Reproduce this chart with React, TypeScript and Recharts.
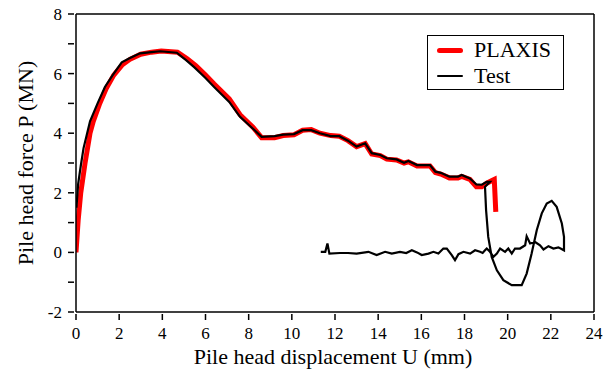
import { LineChart, Line, XAxis, YAxis, ReferenceLine } from 'recharts';

// Pile head displacement U (mm) / force P (MN), PLAXIS model
const plaxisU = [0, 0.1, 0.22, 0.42, 0.65, 0.8, 1.1, 1.4, 1.75, 2.15, 2.5, 3.0, 3.5, 3.95, 4.7, 5.15, 5.55, 6.0, 6.4, 7.1, 7.6, 8.2, 8.6, 9.2, 9.6, 10.1, 10.5, 10.9, 11.3, 11.8, 12.2, 12.6, 13.0, 13.4, 13.7, 14.1, 14.4, 14.85, 15.2, 15.4, 15.8, 16.4, 16.65, 16.9, 17.3, 17.7, 17.87, 18.25, 18.55, 18.8, 19.03, 19.3, 19.38, 19.45];
const plaxisP = [0, 1.08, 2.0, 3.0, 4.0, 4.4, 5.0, 5.5, 5.95, 6.3, 6.48, 6.65, 6.72, 6.76, 6.72, 6.5, 6.27, 5.95, 5.65, 5.15, 4.62, 4.2, 3.85, 3.85, 3.92, 3.95, 4.1, 4.12, 4.0, 3.92, 3.9, 3.75, 3.55, 3.65, 3.3, 3.25, 3.13, 3.1, 3.0, 3.04, 2.9, 2.9, 2.68, 2.63, 2.5, 2.5, 2.55, 2.45, 2.2, 2.2, 2.32, 2.42, 2.45, 1.36];

// Measured load test: loading branch, unloading loop, then the noisy tail back near zero
const testU = [
  0.02, 0.1, 0.22, 0.35, 0.5, 0.65, 1.0, 1.34, 1.7, 2.12, 2.5, 2.97, 3.5, 3.9, 4.67, 5.1, 5.5, 6.0, 6.4, 7.1, 7.6, 8.2, 8.6, 9.2, 9.6, 10.1, 10.5, 10.9, 11.3, 11.8, 12.2, 12.6, 13.0, 13.4, 13.7, 14.1, 14.4, 14.85, 15.2, 15.4, 15.8, 16.4, 16.65, 16.9, 17.3, 17.7, 17.87, 18.25, 18.55, 18.8, 19.03, 19.18,
  18.95, 19.0, 19.1, 19.26, 19.5, 19.8, 20.19, 20.65, 20.88, 21.11, 21.35, 21.58, 21.81, 22.04, 22.27, 22.51, 22.61, 22.61,
  22.35, 22.12, 21.89, 21.66, 21.5, 21.27, 21.04, 20.88, 20.81, 20.57, 20.34, 20.19, 20.03, 19.88, 19.65, 19.5, 19.34, 19.18, 19.03, 18.95, 18.84, 18.72, 18.49, 18.26, 17.95, 17.72, 17.56, 17.41, 17.18, 17.02, 16.79, 16.56, 16.33, 16.02, 15.8, 15.56, 15.3, 15.01, 14.63, 14.32, 13.93, 13.55, 13.0, 12.6, 12.23, 11.74, 11.65, 11.55, 11.34,
];
const testP = [
  1.5, 2.3, 2.9, 3.5, 3.95, 4.4, 5.0, 5.55, 5.95, 6.38, 6.52, 6.68, 6.72, 6.75, 6.7, 6.45, 6.2, 5.85, 5.55, 5.05, 4.55, 4.15, 3.88, 3.9, 3.95, 3.97, 4.1, 4.1, 4.0, 3.9, 3.9, 3.75, 3.55, 3.66, 3.33, 3.27, 3.16, 3.12, 3.01, 3.07, 2.93, 2.93, 2.71, 2.67, 2.54, 2.54, 2.6, 2.48, 2.28, 2.27, 2.37, 2.37,
  2.2, 1.42, 0.52, -0.15, -0.6, -0.93, -1.1, -1.1, -0.71, -0.04, 0.75, 1.31, 1.64, 1.73, 1.53, 0.97, 0.52, 0.07,
  0.17, 0.13, 0.21, 0.1, 0.24, 0.35, 0.3, 0.54, 0.24, 0.13, 0.13, -0.04, 0.13, 0.02, 0.13, -0.04, -0.15, 0.02, 0.13, 0.07, -0.02, 0.02, 0.07, -0.04, 0.02, -0.06, -0.26, -0.09, 0.13, 0.13, -0.04, 0.02, -0.04, -0.09, 0.0, 0.07, -0.02, 0.02, -0.04, 0.02, -0.09, 0.02, -0.04, -0.02, -0.02, -0.04, 0.3, 0.02, 0.02,
];

const xTicks = [0, 2, 4, 6, 8, 10, 12, 14, 16, 18, 20, 22, 24];
const yTicks = [-2, -1, 0, 1, 2, 3, 4, 5, 6, 7, 8];

const plaxisData = plaxisU.map((u, i) => ({ u, p: plaxisP[i] }));
const testData = testU.map((u, i) => ({ u, p: testP[i] }));

const FONT = 'Liberation Serif';

const legendItems = [
  { name: 'PLAXIS', color: '#ff0000', width: 5 },
  { name: 'Test', color: '#000000', width: 2.5 },
];

function LegendBox() {
  return (
    <div style={{ position: 'absolute', left: 427, top: 35, border: '1px solid #000', background: '#fff', width: 137, height: 55, boxSizing: 'border-box', fontFamily: FONT, fontSize: 22, color: '#000', paddingTop: 1 }}>
      {legendItems.map((it) => (
        <div key={it.name} style={{ display: 'flex', alignItems: 'center', height: 26 }}>
          <span style={{ display: 'inline-block', marginLeft: 9, width: 26, height: it.width, background: it.color, borderRadius: it.width / 2 }} />
          <span style={{ marginLeft: 11, lineHeight: '26px' }}>{it.name}</span>
        </div>
      ))}
    </div>
  );
}

// tick labels drawn by hand so the serif face is applied directly
function XTick({ x, y, payload }: any) {
  return (
    <g>
      <line x1={x} y1={y - 6} x2={x} y2={y} stroke="#000" strokeWidth={1.5} />
      <text x={x} y={y + 19} textAnchor="middle" fontFamily={FONT} fontSize={17} fill="#000">
        {payload.value}
      </text>
    </g>
  );
}

function YTick({ x, y, payload }: any) {
  const v = payload.value;
  return (
    <g>
      <line x1={x} y1={y} x2={x + 6} y2={y} stroke="#000" strokeWidth={1.5} />
      {v % 2 === 0 && (
        <text x={x - 6} y={y + 6} textAnchor="end" fontFamily={FONT} fontSize={17} fill="#000">
          {v}
        </text>
      )}
    </g>
  );
}

function XTitle({ viewBox }: any) {
  const cx = viewBox.x + viewBox.width / 2;
  return (
    <text x={cx - 2} y={364} textAnchor="middle" fontFamily={FONT} fontSize={22} fill="#000">
      Pile head displacement U (mm)
    </text>
  );
}

function YTitle({ viewBox }: any) {
  const cy = viewBox.y + viewBox.height / 2;
  return (
    <text x={25} y={cy} transform={`rotate(-90, 25, ${cy})`} textAnchor="middle" dominantBaseline="central" fontFamily={FONT} fontSize={22} fill="#000">
      Pile head force P (MN)
    </text>
  );
}

export default function App() {
  return (
    <div style={{ position: 'absolute', left: 0, top: 0, width: 610, height: 372, background: '#fff', fontFamily: FONT }}>
      <LineChart width={610} height={372} margin={{ top: 14, right: 16, left: 0, bottom: 0 }}>
        <XAxis
          dataKey="u"
          type="number"
          domain={[0, 24]}
          ticks={xTicks}
          height={60}
          allowDataOverflow
          stroke="#000"
          strokeWidth={1.5}
          tickLine={false}
          tickSize={6}
          tick={<XTick />}
          label={<XTitle />}
        />
        <YAxis
          type="number"
          domain={[-2, 8]}
          ticks={yTicks}
          width={76}
          allowDataOverflow
          stroke="#000"
          strokeWidth={1.5}
          tickLine={false}
          tickSize={6}
          tick={<YTick />}
          label={<YTitle />}
        />
        <ReferenceLine y={8} stroke="#000" strokeWidth={1.5} />
        <ReferenceLine x={24} stroke="#000" strokeWidth={1.5} />
        <Line
          data={plaxisData}
          dataKey="p"
          name="PLAXIS"
          stroke="#ff0000"
          strokeWidth={5}
          dot={false}
          type="linear"
          isAnimationActive={false}
        />
        <Line
          data={testData}
          dataKey="p"
          name="Test"
          stroke="#000"
          strokeWidth={2.2}
          dot={false}
          type="linear"
          isAnimationActive={false}
        />
      </LineChart>
      <LegendBox />
    </div>
  );
}
